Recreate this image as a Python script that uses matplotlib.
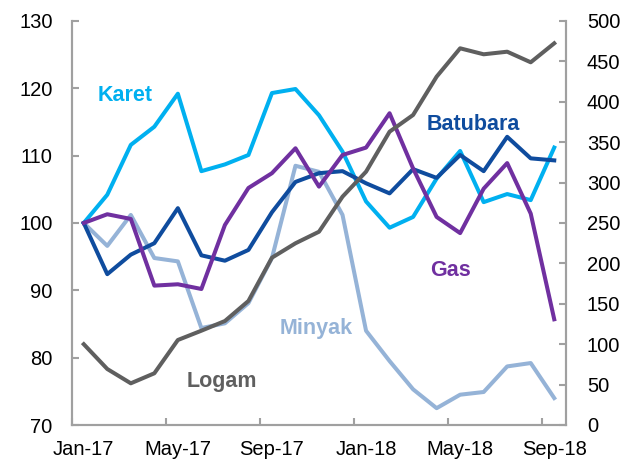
import matplotlib.pyplot as plt
import numpy as np

plt.rcParams['font.family'] = ['Liberation Sans', 'DejaVu Sans']

months = ["Jan-17", "Feb-17", "Mar-17", "Apr-17", "May-17", "Jun-17", "Jul-17",
          "Aug-17", "Sep-17", "Oct-17", "Nov-17", "Dec-17", "Jan-18", "Feb-18",
          "Mar-18", "Apr-18", "May-18", "Jun-18", "Jul-18", "Aug-18", "Sep-18"]

# left axis (index)
karet = [100, 104.2, 111.6, 114.3, 119.2, 107.7, 108.7, 110.1, 119.3, 119.9, 116.0,
         110.6, 103.2, 99.3, 100.9, 106.6, 110.7, 103.1, 104.3, 103.4, 111.2]
batubara = [100, 92.4, 95.3, 97.0, 102.2, 95.2, 94.4, 96.0, 101.6, 106.1, 107.4,
            107.7, 105.9, 104.4, 108.0, 106.7, 110.1, 107.7, 112.8, 109.6, 109.3]
gas = [100, 101.3, 100.6, 90.7, 90.9, 90.2, 99.7, 105.2, 107.4, 111.1, 105.4,
       110.1, 111.2, 116.3, 108.1, 100.9, 98.5, 105.1, 108.9, 101.4, 85.7]
minyak = [100, 96.6, 101.2, 94.8, 94.3, 84.4, 85.1, 88.1, 94.8, 108.5, 107.6,
          101.2, 84.0, 79.5, 75.3, 72.5, 74.5, 74.9, 78.7, 79.2, 74.0]
# right axis
logam = [100, 69.3, 51.6, 64.0, 105.2, 116.7, 128.7, 153.5, 207.1, 224.9, 239.2,
         282.6, 313.5, 363.0, 383.7, 431.1, 466.2, 458.8, 462.0, 448.9, 472.4]

c_karet = '#00B0F0'
c_batu = '#0F4C9E'
c_gas = '#7030A0'
c_minyak = '#95B3D7'
c_logam = '#5F5F5F'
c_axis = '#A0A0A0'

x = np.arange(len(months))
lw = 2.9

fig = plt.figure(figsize=(6.31, 4.62), dpi=100)
ax = fig.add_axes([72 / 631, 37 / 462, 494 / 631, 404 / 462])
ax2 = ax.twinx()

ax.plot(x, minyak, color=c_minyak, linewidth=lw)
ax.plot(x, karet, color=c_karet, linewidth=lw)
ax.plot(x, batubara, color=c_batu, linewidth=lw)
ax.plot(x, gas, color=c_gas, linewidth=lw)
ax2.plot(x, logam, color=c_logam, linewidth=lw)

ax.set_xlim(-0.5, 20.5)
ax.set_ylim(70, 130)
ax2.set_ylim(0, 500)
ax.set_yticks(np.arange(70, 131, 10))
ax2.set_yticks(np.arange(0, 501, 50))

ax.set_xticks(np.arange(-0.5, 20.6, 4), minor=False)
ax.set_xticklabels([])
ax.set_xticks(x[::4], minor=True)
ax.set_xticklabels(months[::4], minor=True)
ax.tick_params(axis='x', which='minor', length=0, labelsize=14.5, pad=11)
ax.tick_params(axis='x', which='major', direction='in', length=5, width=1.5, color=c_axis)
ax.tick_params(axis='y', direction='in', length=5, width=1.5, color=c_axis, labelsize=14.5, pad=14)
ax2.tick_params(axis='y', direction='in', length=5, width=1.5, color=c_axis, labelsize=14.5, pad=15)

for a in (ax, ax2):
    a.spines['top'].set_visible(False)
    for s in ('left', 'right', 'bottom'):
        a.spines[s].set_color(c_axis)
        a.spines[s].set_linewidth(1.5)

fs = 15.5
ax.text(1.75, 119.0, "Karet", color=c_karet, fontsize=fs, fontweight='bold', ha='center', va='center')
ax.text(16.58, 114.7, "Batubara", color=c_batu, fontsize=fs, fontweight='bold', ha='center', va='center')
ax.text(15.6, 93.0, "Gas", color=c_gas, fontsize=fs, fontweight='bold', ha='center', va='center')
ax.text(9.9, 84.4, "Minyak", color=c_minyak, fontsize=fs, fontweight='bold', ha='center', va='center')
ax.text(5.87, 76.5, "Logam", color=c_logam, fontsize=fs, fontweight='bold', ha='center', va='center')

plt.savefig("out.png", dpi=100)
